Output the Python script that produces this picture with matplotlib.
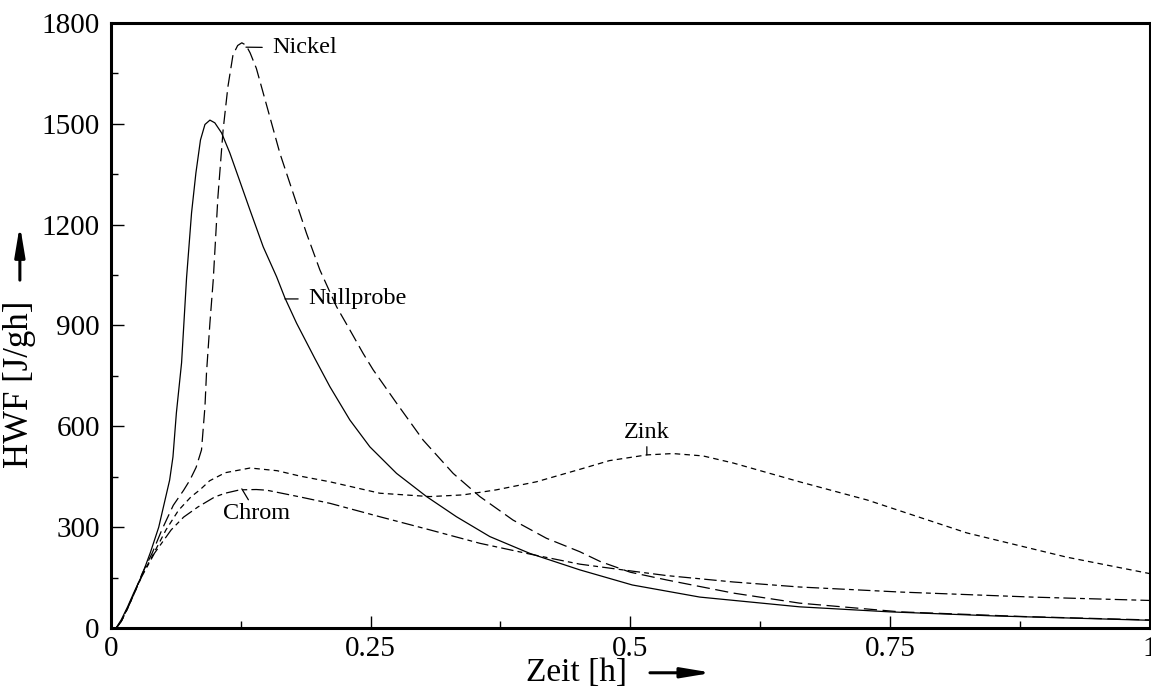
import matplotlib
matplotlib.use("Agg")
import matplotlib.pyplot as plt

plt.rcParams["font.family"] = ["Liberation Serif", "DejaVu Serif"]
plt.rcParams["lines.scale_dashes"] = False

# Zeit [h] und HWF [J/gh] der vier Proben
t_null = [0.005, 0.010, 0.016, 0.022, 0.030, 0.038, 0.046, 0.052, 0.0565, 0.0597, 0.063,
          0.068, 0.0728, 0.0776, 0.0818, 0.0862, 0.0905, 0.0953, 0.100, 0.1065, 0.1145,
          0.124, 0.1338, 0.1466, 0.1595, 0.1675, 0.1787, 0.1963, 0.2108, 0.230, 0.2493,
          0.275, 0.3039, 0.3327, 0.3648, 0.4033, 0.4514, 0.502, 0.567, 0.663, 0.750,
          0.850, 1.0]
hwf_null = [0, 25, 63, 105, 158, 225, 300, 380, 440, 509, 640,
            789, 1042, 1235, 1354, 1452, 1498, 1511, 1503, 1473, 1413,
            1330, 1244, 1134, 1045, 982, 907, 802, 718, 619, 539,
            460, 391, 331, 272, 222, 173, 128, 92, 63, 48,
            36, 23]

t_nickel = [0.005, 0.010, 0.016, 0.022, 0.030, 0.040, 0.049, 0.060, 0.070, 0.076, 0.082,
            0.0872, 0.0905, 0.092, 0.0953, 0.0985, 0.103, 0.108, 0.1126, 0.1175, 0.122,
            0.126, 0.130, 0.134, 0.140, 0.1499, 0.1627, 0.1755, 0.1883, 0.2012, 0.2172,
            0.230, 0.2428, 0.2525, 0.275, 0.3006, 0.3295, 0.3552, 0.3872, 0.4193, 0.4514,
            0.471, 0.500, 0.535, 0.599, 0.663, 0.760, 0.880, 1.0]
hwf_nickel = [0, 20, 58, 100, 162, 225, 292, 365, 410, 440, 478,
              530, 658, 759, 908, 1036, 1283, 1482, 1610, 1705, 1733,
              1741, 1734, 1711, 1665, 1555, 1412, 1293, 1174, 1065, 956,
              887, 817, 768, 669, 559, 460, 391, 321, 267, 227,
              198, 166, 143, 104, 74, 48, 34, 24]

t_zink = [0.005, 0.010, 0.016, 0.022, 0.030, 0.040, 0.053, 0.065, 0.077, 0.086, 0.095,
          0.110, 0.134, 0.160, 0.182, 0.2108, 0.2589, 0.307, 0.339, 0.371, 0.4097, 0.4514,
          0.480, 0.516, 0.541, 0.570, 0.599, 0.663, 0.728, 0.824, 0.920, 1.0]
hwf_zink = [0, 20, 58, 100, 158, 215, 292, 350, 390, 412, 438,
            462, 476, 468, 452, 435, 401, 391, 396, 411, 435, 472,
            498, 515, 519, 512, 491, 435, 381, 283, 211, 162]

t_chrom = [0.005, 0.010, 0.016, 0.022, 0.0295, 0.042, 0.058, 0.070, 0.0837, 0.100, 0.110,
           0.124, 0.140, 0.150, 0.182, 0.2108, 0.2589, 0.307, 0.3552, 0.4033, 0.4514,
           0.500, 0.535, 0.599, 0.663, 0.760, 0.887, 1.0]
hwf_chrom = [0, 20, 60, 100, 152, 223, 292, 330, 360, 390, 401,
             411, 412, 410, 390, 371, 331, 292, 252, 220, 190,
             170, 156, 137, 122, 107, 92, 82]

fig = plt.figure(figsize=(11.51, 6.88), dpi=100)
ax = fig.add_axes([0.0964, 0.0872, 0.9023, 0.8794])

lw = 0.9
ax.plot(t_null, hwf_null, color="black", lw=lw)
ax.plot(t_nickel, hwf_nickel, color="black", lw=lw, dashes=(9.5, 4))
ax.plot(t_zink, hwf_zink, color="black", lw=lw, dashes=(4, 3))
ax.plot(t_chrom, hwf_chrom, color="black", lw=lw, dashes=(9, 3, 3.5, 3))

ax.set_xlim(0, 1)
ax.set_ylim(0, 1800)
ax.set_xticks([0, 0.25, 0.5, 0.75, 1])
ax.set_xticklabels(["0", "0.25", "0.5", "0.75", "1"])
ax.set_xticks([0.125, 0.375, 0.625, 0.875], minor=True)
ax.set_yticks(range(0, 1801, 300))
ax.set_yticks(range(150, 1800, 300), minor=True)
ax.tick_params(which="both", direction="in", width=1, labelsize=21, colors="black")
ax.tick_params(which="major", length=9)
ax.tick_params(which="minor", length=5)
ax.tick_params(axis="x", pad=6)
ax.tick_params(axis="y", pad=8)
for s in ax.spines.values():
    s.set_linewidth(2.2)

ax.set_xlabel("Zeit [h]", fontsize=24, va="center")
ax.xaxis.set_label_coords(0.448, -0.074)
ax.set_ylabel("HWF [J/gh]", fontsize=25, va="center")
ax.yaxis.set_label_coords(-0.0877, 0.403)

# Pfeile an den Achsentiteln
arrow = dict(arrowstyle="-|>,head_length=1.8,head_width=0.3", color="black",
             lw=2.2, mutation_scale=10, shrinkA=0, shrinkB=0)
ax.annotate("", xy=(0.579, -0.074), xytext=(0.519, -0.074),
            xycoords="axes fraction", textcoords="axes fraction",
            arrowprops=arrow, annotation_clip=False)
ax.annotate("", xy=(-0.0877, 0.666), xytext=(-0.0877, 0.575),
            xycoords="axes fraction", textcoords="axes fraction",
            arrowprops=arrow, annotation_clip=False)

# Kurvenbeschriftungen
lead = dict(arrowstyle="-", color="black", lw=0.9, shrinkA=5, shrinkB=0)
ax.annotate("Nickel", xy=(0.130, 1728), xytext=(0.155, 1726), fontsize=17.5,
            ha="left", va="center", arrowprops=lead)
ax.annotate("Nullprobe", xy=(0.1675, 979), xytext=(0.1896, 979), fontsize=17.5,
            ha="left", va="center", arrowprops=lead)
ax.annotate("Zink", xy=(0.516, 515), xytext=(0.516, 583), fontsize=17.5,
            ha="center", va="center", arrowprops=dict(lead, shrinkA=1))
ax.annotate("Chrom", xy=(0.126, 414), xytext=(0.140, 342), fontsize=17.5,
            ha="center", va="center", arrowprops=dict(lead, shrinkA=0))

fig.savefig("out.png", dpi=100)
